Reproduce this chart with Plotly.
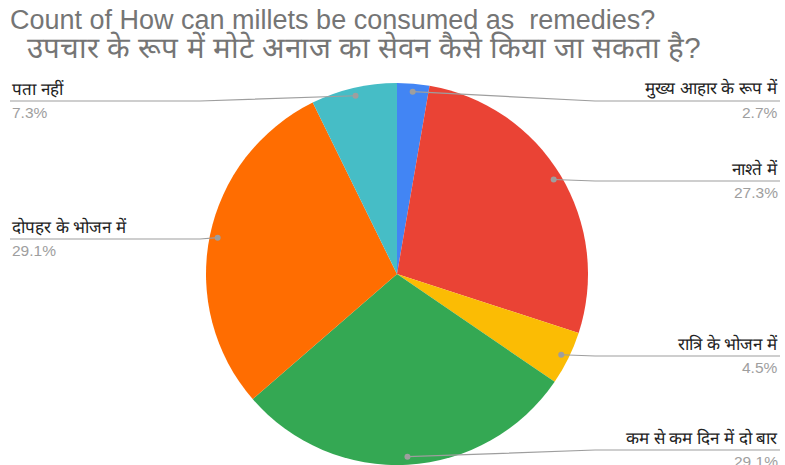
import math
import plotly.graph_objects as go

# ---- data ----
labels = ["मुख्य आहार के रूप में", "नाश्ते में", "रात्रि के भोजन में",
          "कम से कम दिन में दो बार", "दोपहर के भोजन में", "पता नहीं"]
counts = [3, 30, 5, 32, 32, 8]
colors = ["#4285F4", "#EA4335", "#FBBC04", "#34A853", "#FF6D01", "#46BDC6"]
title_line1 = "Count of How can millets be consumed as  remedies?"
title_line2 = "उपचार के रूप में मोटे अनाज का सेवन कैसे किया जा सकता है?"

# ---- layout constants (pixels) ----
W, H = 785, 465
R = 191
CX, CY = 397, H - R          # pie center (pixels, from top)
DOT_R = 183
label_line_y = [101, 181, 356, 450, 239, 101]   # leader-line heights of labels
RIGHT_X, LEFT_X = 780, 10
ELBOW_RIGHT, ELBOW_LEFT = 595, 200
FONT = "Liberation Sans, Arial, sans-serif"

def px(x):
    return x / W

def py(y):
    return 1 - y / H

fig = go.Figure(go.Pie(
    labels=labels, values=counts, sort=False, direction="clockwise", rotation=0,
    marker=dict(colors=colors, line=dict(width=0)),
    textinfo="none", hoverinfo="label+percent", showlegend=False,
    domain=dict(x=[(CX - R) / W, (CX + R) / W], y=[0, 2 * R / H]),
))

total = sum(counts)
cum = 0
shapes, annotations = [], []
for lab, v, ly in zip(labels, counts, label_line_y):
    mid = (cum + v / 2) / total * 2 * math.pi
    cum += v
    dx = CX + DOT_R * math.sin(mid)
    dy = CY - DOT_R * math.cos(mid)
    pct = f"{100 * v / total:.1f}%"
    right = math.sin(mid) >= 0
    if right:
        ex, endx, anchor = max(ELBOW_RIGHT, dx), RIGHT_X, "right"
    else:
        ex, endx, anchor = min(ELBOW_LEFT, dx), LEFT_X, "left"
    shapes.append(dict(type="path", xref="paper", yref="paper",
                       path=f"M {px(dx)} {py(dy)} L {px(ex)} {py(ly)} L {px(endx)} {py(ly)}",
                       line=dict(color="#9e9e9e", width=1.2)))
    shapes.append(dict(type="circle", xref="paper", yref="paper",
                       x0=px(dx - 3), x1=px(dx + 3), y0=py(dy + 3), y1=py(dy - 3),
                       fillcolor="#9e9e9e", line=dict(width=0)))
    annotations.append(dict(x=px(endx), y=py(ly), xref="paper", yref="paper",
                            text=lab, showarrow=False, xanchor=anchor, yanchor="bottom",
                            font=dict(size=17, color="#222222", family=FONT)))
    annotations.append(dict(x=px(endx), y=py(ly + 1), xref="paper", yref="paper",
                            text=pct, showarrow=False, xanchor=anchor, yanchor="top",
                            font=dict(size=15.5, color="#9e9e9e", family=FONT)))

annotations.append(dict(x=px(8), y=py(20), xref="paper", yref="paper", text=title_line1,
                        showarrow=False, xanchor="left", yanchor="middle",
                        font=dict(size=27, color="#757575", family=FONT)))
annotations.append(dict(x=px(25), y=py(47), xref="paper", yref="paper", text=title_line2,
                        showarrow=False, xanchor="left", yanchor="middle",
                        font=dict(size=29.5, color="#757575", family=FONT)))

fig.update_layout(width=W, height=H, margin=dict(l=0, r=0, t=0, b=0),
                  paper_bgcolor="white", plot_bgcolor="white",
                  shapes=shapes, annotations=annotations)

fig.write_html("out.html")
